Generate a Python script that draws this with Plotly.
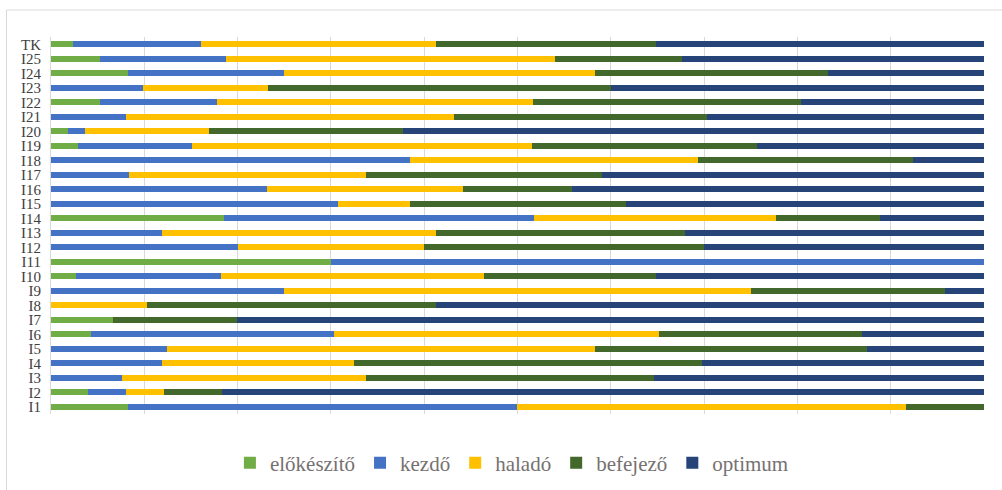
import plotly.graph_objects as go

# kategóriák alulról felfelé
kategoriak = ['I1', 'I2', 'I3', 'I4', 'I5', 'I6', 'I7', 'I8', 'I9', 'I10',
              'I11', 'I12', 'I13', 'I14', 'I15', 'I16', 'I17', 'I18', 'I19', 'I20',
              'I21', 'I22', 'I23', 'I24', 'I25', 'TK']

# százalékos megoszlások (leolvasva)
elokeszito = [8.2, 4.0, 0, 0, 0, 4.3, 6.6, 0, 0, 2.7,
              30.0, 0, 0, 18.5, 0, 0, 0, 0, 2.9, 1.8,
              0, 5.3, 0, 8.3, 5.3, 2.4]
kezdo = [41.7, 4.0, 7.6, 11.9, 12.4, 26.0, 0, 0, 25.0, 15.5,
         70.0, 20.0, 11.9, 33.3, 30.8, 23.2, 8.4, 38.5, 12.2, 1.8,
         8.0, 12.5, 9.9, 16.7, 13.5, 13.7]
halado = [41.7, 4.1, 26.2, 20.6, 45.9, 34.9, 0, 10.3, 50.0, 28.2,
          0, 20.0, 29.4, 25.9, 7.7, 21.0, 25.4, 30.8, 36.4, 13.3,
          35.2, 33.9, 13.4, 33.3, 35.2, 25.2]
befejezo = [8.4, 6.2, 30.8, 37.3, 29.2, 21.7, 13.3, 31.0, 20.8, 18.4,
            0, 30.0, 26.7, 11.2, 23.1, 11.6, 25.3, 23.1, 24.2, 20.8,
            27.1, 28.7, 36.7, 25.0, 13.6, 23.5]
optimum = [0, 81.7, 35.4, 30.2, 12.5, 13.1, 80.1, 58.7, 4.2, 35.2,
           0, 30.0, 32.0, 11.1, 38.4, 44.2, 40.9, 7.6, 24.3, 62.3,
           29.7, 19.6, 40.0, 16.7, 32.4, 35.2]

sorozatok = [
    ('előkészítő', elokeszito, '#70AD47'),
    ('kezdő', kezdo, '#4472C4'),
    ('haladó', halado, '#FFC000'),
    ('befejező', befejezo, '#43682B'),
    ('optimum', optimum, '#264478'),
]

BETU = 'Liberation Serif'

fig = go.Figure()
for nev, ertekek, szin in sorozatok:
    fig.add_trace(go.Bar(
        y=kategoriak, x=ertekek, name=nev, orientation='h',
        marker=dict(color=szin, line=dict(width=0)),
        hoverinfo='name+x'
    ))

fig.update_layout(
    barmode='stack',
    bargap=0.58,
    width=1002, height=490,
    margin=dict(l=51, r=18, t=37, b=76, autoexpand=False),
    paper_bgcolor='white',
    plot_bgcolor='white',
    font=dict(family=BETU, size=15, color='#404040'),
    legend=dict(
        orientation='h', x=0.494, xanchor='center', y=-0.13, yanchor='middle',
        font=dict(family=BETU, size=21, color='#767171'),
        itemwidth=30, traceorder='normal'
    ),
    # a diagram kerete (jobbra és lent kilóg a képből)
    shapes=[dict(
        type='rect', xref='paper', yref='paper',
        x0=-44.5 / 933, x1=1 + 40 / 933, y0=-100 / 377, y1=1 + 27 / 377,
        line=dict(color='#D9D9D9', width=1), fillcolor='rgba(0,0,0,0)'
    )]
)
fig.update_xaxes(
    range=[0, 100], showticklabels=False, showgrid=True,
    gridcolor='#D9D9D9', gridwidth=1, dtick=10, zeroline=False,
    fixedrange=True, automargin=False
)
fig.update_yaxes(
    categoryorder='array', categoryarray=kategoriak,
    tickmode='array', tickvals=kategoriak, ticktext=kategoriak,
    tickfont=dict(family=BETU, size=15, color='#404040'), ticks='',
    ticklabelstandoff=6, automargin=False,
    showline=True, linecolor='#D9D9D9', showgrid=False
)

# a böngésző alapértelmezett 8px-es margójának kikapcsolása
fig.write_html('out.html', config={'displayModeBar': False},
               post_script="document.body.style.margin='0';")
